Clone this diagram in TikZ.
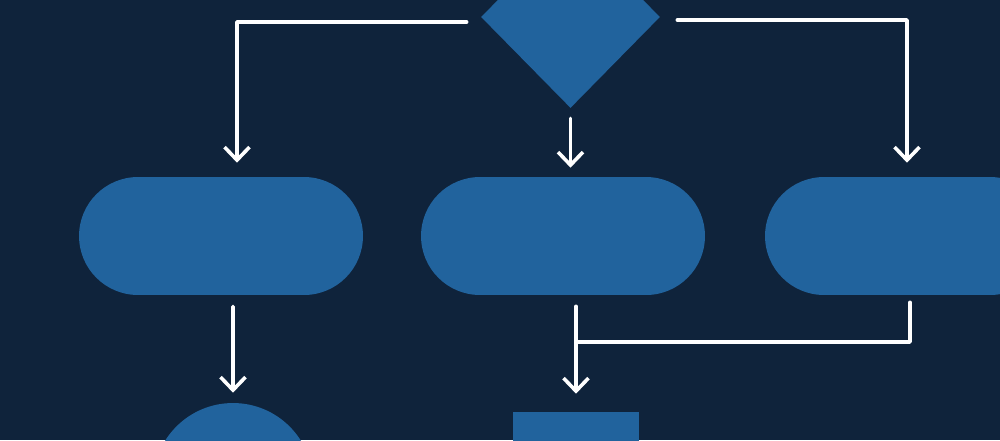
\documentclass[tikz,border=0pt]{standalone}
\usetikzlibrary{shapes.geometric,shapes.misc,arrows.meta}
\definecolor{navy}{HTML}{0F233B}
\definecolor{boxblue}{HTML}{21639D}
\begin{document}
\begin{tikzpicture}[x=0.02cm,y=-0.02cm]
    \tikzstyle{every node}+=[inner sep=0pt, draw=none, fill=boxblue]
    \tikzstyle{link}=[white, line width=0.072cm, line cap=round, line join=round]
    \tikzstyle{flow}=[link, -{Straight Barb[length=0.26cm,width=0.5cm]}]
    \useasboundingbox (0,0) rectangle (1000,440);
    \clip (0,0) rectangle (1000,440);
    \fill [navy] (0,0) rectangle (1000,440);
    \node [diamond, minimum width=3.58cm, minimum height=3.64cm] (decide) at (570.5,17) {};
    \node [rounded rectangle, minimum width=5.68cm, minimum height=2.36cm] (left) at (221,236) {};
    \node [rounded rectangle, minimum width=5.68cm, minimum height=2.36cm] (mid) at (563,236) {};
    \node [rounded rectangle, minimum width=5.68cm, minimum height=2.36cm] (right) at (907,236) {};
    \node [circle, minimum size=3.2cm] (stop) at (233,483) {};
    \node [rectangle, minimum width=2.54cm, minimum height=2cm] (task) at (576,462) {};
    \coordinate (join) at (578,342);
    \draw [flow] ([xshift=-0.28cm,yshift=-0.1cm]decide.west) -| ([xshift=0.32cm,yshift=0.28cm]left.north);
    \draw [flow] ([xshift=0.34cm,yshift=-0.06cm]decide.east) -| ([yshift=0.28cm]right.north);
    \draw [flow] ([yshift=-0.2cm]decide.south) -- ([yshift=0.18cm]decide.south |- mid.north);
    \draw [flow] ([xshift=0.24cm,yshift=-0.22cm]left.south) -- ([yshift=0.2cm]stop.north);
    \draw [flow] ([yshift=-0.22cm]task.north |- mid.south) -- ([yshift=0.36cm]task.north);
    \draw [link] ([xshift=0.06cm,yshift=-0.14cm]right.south) |- (join);
\end{tikzpicture}
\end{document}
